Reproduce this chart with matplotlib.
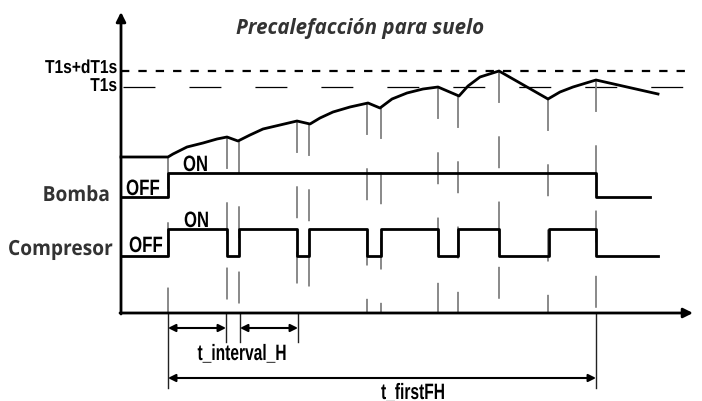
import numpy as np
import matplotlib
matplotlib.use("Agg")
import matplotlib.pyplot as plt
from matplotlib import patheffects
from matplotlib.transforms import Affine2D

plt.rcParams['lines.scale_dashes'] = False

# time instants (drawing units, left->right) and levels (top->bottom)
x_axis_start = 121
x_axis_end = 693
y_axis_top = 12
y_axis_base = 313

comp_times = [121, 168, 227, 239, 297, 309, 367, 381, 438, 458, 499, 549, 596, 658]
comp_states = [0, 1, 0, 1, 0, 1, 0, 1, 0, 1, 0, 1, 0]
bomba_times = [121, 168, 596, 650]
bomba_states = [0, 1, 0]

comp_off, comp_on = 256, 229
bomba_off, bomba_on = 197, 173

temp_x = [121, 168, 173, 187, 203, 217, 227, 238, 250, 263, 280, 297, 310, 320, 333, 350,
          368, 380, 392, 407, 423, 438, 459, 468, 480, 499, 548, 560, 573, 596, 658]
temp_y = [157, 157, 154, 147, 143, 139, 137, 141, 135, 129, 125, 121, 124, 118, 112, 107,
          103, 108, 99, 93, 89, 87, 96, 86, 77, 71, 99, 92, 87, 80, 94]

guide_x = [168, 227, 239, 297, 309, 367, 381, 438, 458, 499, 548, 596]

y_t1s = 87
y_t1s_dt = 71

label_font = ['Liberation Sans', 'DejaVu Sans']
text_font = ['Open Sans', 'DejaVu Sans']
grey_txt = '#333333'


class Squeeze(patheffects.AbstractPathEffect):
    """narrow the glyphs horizontally around x0 (display units)"""

    def __init__(self, sx, x0):
        super().__init__()
        self._sx = sx
        self._x0 = x0

    def draw_path(self, renderer, gc, tpath, affine, rgbFace=None):
        sq = Affine2D().translate(-self._x0, 0).scale(self._sx, 1).translate(self._x0, 0)
        renderer.draw_path(gc, tpath, affine + sq, rgbFace)


fig = plt.figure(figsize=(7.02, 4.01), dpi=100)
ax = fig.add_axes([0, 0, 1, 1])
ax.set_xlim(0, 702)
ax.set_ylim(401, 0)
ax.axis('off')


def narrow_text(x, y, s, sx, **kw):
    t = ax.text(x, y, s, **kw)
    x0 = ax.transData.transform((x, y))[0]
    t.set_path_effects([Squeeze(sx, x0)])
    return t


# axes with arrows
ax.annotate('', xy=(x_axis_start, y_axis_top), xytext=(x_axis_start, y_axis_base + 1),
            arrowprops=dict(arrowstyle='-|>', color='black', lw=2, mutation_scale=14,
                            shrinkA=0, shrinkB=0))
ax.annotate('', xy=(x_axis_end, y_axis_base), xytext=(x_axis_start - 1, y_axis_base),
            arrowprops=dict(arrowstyle='-|>', color='black', lw=2, mutation_scale=14,
                            shrinkA=0, shrinkB=0))

# threshold lines
ax.plot([x_axis_start, 690], [y_t1s_dt, y_t1s_dt], color='black', lw=1.6, dashes=(6, 6.5))
ax.plot([x_axis_start + 2, 700], [y_t1s, y_t1s], color='black', lw=0.9, dashes=(23, 24.5))

# vertical guides
curve_at = np.interp(guide_x, temp_x, temp_y)
for gx, gy in zip(guide_x, curve_at):
    ax.plot([gx, gx], [gy, y_axis_base], color='#808080', lw=1.3, dashes=(23, 24))

# temperature curve
ax.plot(temp_x, temp_y, color='black', lw=2, solid_joinstyle='round')

# signals
bomba_lvl = [bomba_on if s else bomba_off for s in bomba_states]
ax.step(bomba_times, bomba_lvl + [bomba_lvl[-1]], where='post', color='black', lw=2)
comp_lvl = [comp_on if s else comp_off for s in comp_states]
ax.step(comp_times, comp_lvl + [comp_lvl[-1]], where='post', color='black', lw=2)

# dimension lines
for ex, ey in [(168, 388), (226, 342), (240, 342), (298, 342), (596, 388)]:
    ax.plot([ex, ex], [y_axis_base, ey], color='#222222', lw=1)
dim_kw = dict(arrowstyle='<|-|>', color='black', lw=1.5, mutation_scale=11, shrinkA=0, shrinkB=0)
ax.annotate('', xy=(226, 328), xytext=(168, 328), arrowprops=dim_kw)
ax.annotate('', xy=(298, 328), xytext=(240, 328), arrowprops=dim_kw)
ax.annotate('', xy=(596, 378), xytext=(168, 378), arrowprops=dim_kw)

# labels
big = dict(family=label_font, fontweight='bold', fontsize=16, color='black', va='baseline')
small = dict(family=label_font, fontweight='bold', fontsize=13.5, color='black', va='baseline')
narrow_text(117, 73, 'T1s+dT1s', 0.83, ha='right', **small)
narrow_text(117, 91, 'T1s', 0.83, ha='right', **small)
narrow_text(126, 195, 'OFF', 0.76, ha='left', **big)
narrow_text(129, 252, 'OFF', 0.76, ha='left', **big)
narrow_text(183, 171, 'ON', 0.75, ha='left', **big)
narrow_text(184, 227, 'ON', 0.75, ha='left', **big)
narrow_text(242, 360, 't_interval_H', 0.70, ha='center', **big)
narrow_text(413, 399, 't_firstFH', 0.70, ha='center', **big)

ax.text(360, 34, 'Precalefacción para suelo', ha='center', va='baseline', family=text_font,
        fontweight='bold', fontstyle='italic', fontsize=14.8, color=grey_txt)
narrow_text(110, 201, 'Bomba', 0.92, ha='right', va='baseline', family=text_font,
            fontweight='bold', fontsize=15, color=grey_txt)
narrow_text(113, 255, 'Compresor', 0.92, ha='right', va='baseline', family=text_font,
            fontweight='bold', fontsize=15, color=grey_txt)

fig.savefig('out.png', dpi=100)
